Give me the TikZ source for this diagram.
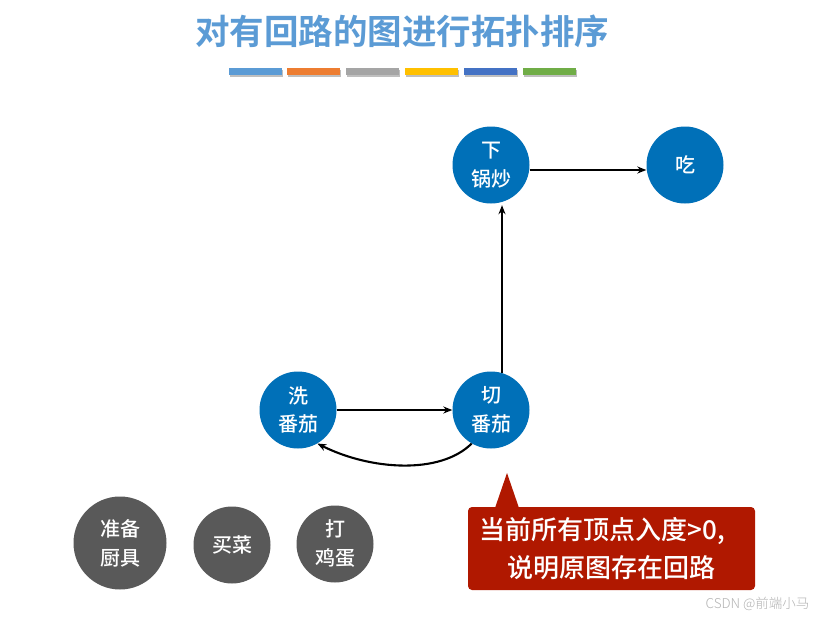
\documentclass[tikz,border=0pt]{standalone}
\usepackage{fontspec}
\setmainfont{Noto Sans CJK SC}
\newfontfamily\cjkb{Noto Sans CJK SC Bold}
\newfontfamily\cjkm{Noto Sans CJK SC Medium}
\newfontfamily\cjkl{Noto Sans CJK SC Light}
\usetikzlibrary{arrows.meta,shapes.geometric}
\definecolor{nodeblue}{HTML}{0070B8}
\definecolor{nodegray}{HTML}{595959}
\definecolor{titleblue}{HTML}{5B9BD5}
\definecolor{calred}{HTML}{B01800}
\definecolor{barA}{HTML}{5B9BD5}
\definecolor{barB}{HTML}{ED7D31}
\definecolor{barC}{HTML}{A5A5A5}
\definecolor{barD}{HTML}{FFC000}
\definecolor{barE}{HTML}{4472C4}
\definecolor{barF}{HTML}{70AD47}
\tikzset{
  bluenode/.style={circle,fill=nodeblue,text=white,minimum size=77pt,inner sep=0pt,align=center,font=\cjkm\fontsize{20}{28.5}\selectfont},
  graynode/.style={circle,fill=nodegray,text=white,minimum size=77pt,inner sep=0pt,align=center,font=\cjkm\fontsize{20}{29}\selectfont},
  conn/.style={-{Stealth[length=9pt,width=7pt]},line width=1.6pt,black},
  colorbar/.style={minimum width=53pt,minimum height=7pt,inner sep=0pt,draw=none}
}
\begin{document}
\begin{tikzpicture}[x=1pt,y=-1pt]
\useasboundingbox (0,0) rectangle (825,619);
\fill[white] (0,0) rectangle (825,619);
% title
\node[text=titleblue,font=\cjkb\fontsize{34.5}{38}\selectfont] (title) at (402,31) {对有回路的图进行拓扑排序};
% bars
\foreach \c/\x [count=\i] in {barA/255.5,barB/313,barC/372,barD/431,barE/490,barF/549.5}{
  \node[colorbar,fill=black!25] (sh\i) at (\x+1,73.5) {};
  \node[colorbar,fill=\c] (bar\i) at (\x,71.5) {};
}
% nodes
\node[bluenode] (xia) at (491,165) {下\\锅炒};
\node[bluenode] (chi) at (685,165) {吃};
\node[bluenode] (xi) at (298,410) {洗\\番茄};
\node[bluenode] (qie) at (491,410) {切\\番茄};
\node[graynode,minimum size=93pt] (zb) at (120,543) {准备\\厨具};
\node[graynode] (mc) at (232,545) {买菜};
\node[graynode] (dj) at (335,544) {打\\鸡蛋};
% edges
\draw[conn] (xi.east) -- (qie.west);
\draw[conn,line width=2.1pt] (qie.-120) .. controls (440,475) and (370,470) .. (xi.-60);
\draw[conn] ([xshift=11pt,yshift=-1.5pt]qie.north) -- ([xshift=11pt,yshift=-1.5pt]xia.south);
\draw[conn] ([yshift=-5pt]xia.east) -- ([yshift=-5pt]chi.west);
% callout
\fill[calred,rounded corners=4pt] (468,507) rectangle (755,590);
\fill[calred] (495,508) -- (507,473) -- (519,508) -- cycle;
\node[text=white,font=\cjkm\fontsize{26}{38}\selectfont,align=left,anchor=west] (callout) at (476,549) {当前所有顶点入度>0,\\\hspace*{28pt}说明原图存在回路};
% watermark
\node[text=black!30,font=\cjkl\fontsize{13.5}{14}\selectfont,anchor=east] (wm) at (813,604) {CSDN @前端小马};
\end{tikzpicture}
\end{document}
